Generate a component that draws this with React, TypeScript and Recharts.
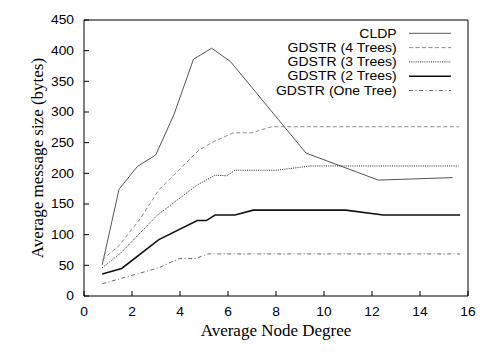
import React from 'react'
import { LineChart, Line, XAxis, YAxis, Legend } from 'recharts'

// average node degree vs message size
const cldpX = [0.76, 1.46, 2.22, 2.99, 3.75, 4.56, 5.32, 6.11, 9.25, 12.26, 15.36]
const cldpY = [51, 174, 211, 230, 296, 386, 404, 382, 233, 189, 193]

const tree4X = [0.76, 1.46, 2.36, 3.12, 4.79, 5.42, 6.22, 6.99, 7.82, 15.62]
const tree4Y = [59, 82, 127, 173, 238, 252, 266, 266, 276, 276]

const tree3X = [0.76, 1.53, 3.06, 4.72, 5.46, 5.95, 6.29, 8.03, 9.42, 15.6]
const tree3Y = [46, 70, 132, 181, 197, 196, 205, 205, 212, 212]

const tree2X = [0.76, 1.57, 3.12, 4.72, 5.1, 5.46, 6.29, 7.05, 10.9, 12.47, 15.67]
const tree2Y = [36, 45, 92, 123, 123, 132, 132, 140, 140, 132, 132]

const tree1X = [0.76, 3.12, 3.96, 4.65, 5.15, 15.67]
const tree1Y = [20, 46, 61, 61, 68.6, 68.6]

const xTicks = [0, 2, 4, 6, 8, 10, 12, 14, 16]
const yTicks = [0, 50, 100, 150, 200, 250, 300, 350, 400, 450]

const toPoints = (xs: number[], ys: number[]) => xs.map((x, i) => ({ x, y: ys[i] }))

const SERIES = [
  { name: 'CLDP', data: toPoints(cldpX, cldpY), color: '#555555', width: 1, dash: undefined },
  { name: 'GDSTR (4 Trees)', data: toPoints(tree4X, tree4Y), color: '#8a8a8a', width: 1, dash: '4 2.5' },
  { name: 'GDSTR (3 Trees)', data: toPoints(tree3X, tree3Y), color: '#222222', width: 1, dash: '1 1.2' },
  { name: 'GDSTR (2 Trees)', data: toPoints(tree2X, tree2Y), color: '#111111', width: 1.6, dash: undefined },
  { name: 'GDSTR (One Tree)', data: toPoints(tree1X, tree1Y), color: '#666666', width: 1, dash: '4 2.5 1 2.5' }
]

const SANS = '"Liberation Sans", Arial, sans-serif'
const SERIF = '"Liberation Serif", "Times New Roman", serif'

/**
 * tick label, stretched a little sideways like the gnuplot output
 */
function SansTick(props: any) {
  const { x, y, payload, textAnchor, verticalAnchor } = props
  const dy = verticalAnchor === 'start' ? '0.71em' : '0.355em'
  return (
    <text
      transform={`translate(${x},${y}) scale(1.15,1)`}
      textAnchor={textAnchor}
      dy={dy}
      fontSize={12}
      fontFamily={SANS}
      fill="#000"
    >
      {payload.value}
    </text>
  )
}

function renderLegend() {
  return (
    <svg width={200} height={80}>
      {SERIES.map((s, i) => {
        const cy = 9.3 + i * 14.3
        return (
          <g key={s.name}>
            <text
              transform={`translate(136.7,${cy}) scale(1.17,1)`}
              textAnchor="end"
              dy="0.355em"
              fontSize={12}
              fontFamily={SANS}
              fill="#000"
            >
              {s.name}
            </text>
            <line
              x1={149}
              x2={191}
              y1={cy}
              y2={cy}
              stroke={s.color}
              strokeWidth={s.width}
              strokeDasharray={s.dash}
            />
          </g>
        )
      })}
    </svg>
  )
}

export default function App() {
  return (
    <div style={{ position: 'absolute', left: 0, top: 0, width: 494, height: 352, background: '#fff' }}>
      <LineChart width={494} height={352} margin={{ top: 0, right: 0, bottom: 0, left: 0 }}>
        <XAxis
          dataKey="x"
          type="number"
          domain={[0, 16]}
          ticks={xTicks}
          interval={0}
          height={56}
          tickSize={-5}
          tickMargin={16}
          stroke="#000"
          tick={<SansTick />}
          label={{
            content: (p: any) => {
              const vb = p.viewBox
              return (
                <text x={vb.x + vb.width / 2} y={vb.y + 40} textAnchor="middle" fontSize={17} fontFamily={SERIF} fill="#000">
                  Average Node Degree
                </text>
              )
            }
          }}
        />
        <XAxis xAxisId="top" orientation="top" type="number" domain={[0, 16]} ticks={xTicks} interval={0} height={20} tickSize={-5} tick={false} stroke="#000" />
        <YAxis
          type="number"
          domain={[0, 450]}
          ticks={yTicks}
          interval={0}
          width={84}
          tickSize={-5}
          tickMargin={15}
          stroke="#000"
          tick={<SansTick />}
          label={{
            content: (p: any) => {
              const vb = p.viewBox
              const cx = vb.x + 43
              const cy = vb.y + vb.height / 2
              return (
                <text x={cx} y={cy} transform={`rotate(-90 ${cx} ${cy})`} textAnchor="middle" fontSize={17} fontFamily={SERIF} fill="#000">
                  Average message size (bytes)
                </text>
              )
            }
          }}
        />
        <YAxis yAxisId="right" orientation="right" type="number" domain={[0, 450]} ticks={yTicks} interval={0} width={26} tickSize={-5} tick={false} stroke="#000" />
        <Legend
          content={renderLegend}
          layout="vertical"
          align="center"
          verticalAlign="middle"
          wrapperStyle={{ left: 260, top: 24, width: 200, height: 80 }}
        />
        {SERIES.map(s => (
          <Line
            key={s.name}
            data={s.data}
            dataKey="y"
            name={s.name}
            type="linear"
            stroke={s.color}
            strokeWidth={s.width}
            strokeDasharray={s.dash}
            dot={false}
            isAnimationActive={false}
          />
        ))}
      </LineChart>
    </div>
  )
}
